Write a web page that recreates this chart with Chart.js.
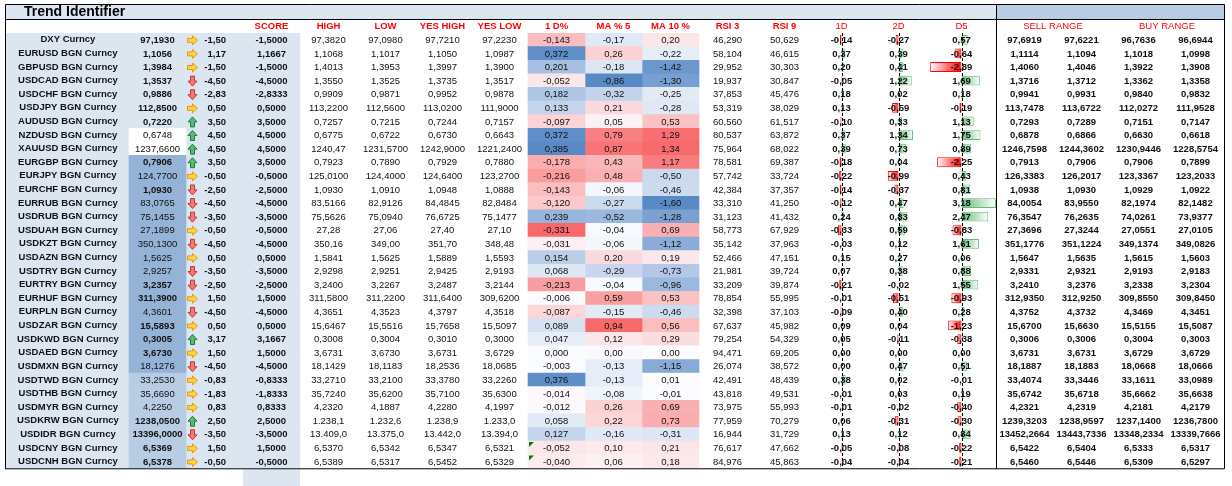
<!DOCTYPE html>
<html>
<head>
<meta charset="utf-8">
<title>Trend Identifier</title>
<script src="https://cdn.jsdelivr.net/npm/chart.js@4.4.1/dist/chart.umd.min.js"></script>
<style>
  html, body { margin: 0; padding: 0; background: #fff; }
  canvas { display: block; }
</style>
</head>
<body>
<canvas id="myChart" width="1232" height="486"></canvas>
<script>
// ---------- data ----------
const names = ['DXY Curncy', 'EURUSD BGN Curncy', 'GBPUSD BGN Curncy', 'USDCAD BGN Curncy', 'USDCHF BGN Curncy',
  'USDJPY BGN Curncy', 'AUDUSD BGN Curncy', 'NZDUSD BGN Curncy', 'XAUUSD BGN Curncy', 'EURGBP BGN Curncy',
  'EURJPY BGN Curncy', 'EURCHF BGN Curncy', 'EURRUB BGN Curncy', 'USDRUB BGN Curncy', 'USDUAH BGN Curncy',
  'USDKZT BGN Curncy', 'USDAZN BGN Curncy', 'USDTRY BGN Curncy', 'EURTRY BGN Curncy', 'EURHUF BGN Curncy',
  'EURPLN BGN Curncy', 'USDZAR BGN Curncy', 'USDKWD BGN Curncy', 'USDAED BGN Curncy', 'USDMXN BGN Curncy',
  'USDTWD BGN Curncy', 'USDTHB BGN Curncy', 'USDMYR BGN Curncy', 'USDKRW BGN Curncy', 'USDIDR BGN Curncy',
  'USDCNY BGN Curncy', 'USDCNH BGN Curncy'];

const price = [97.1930, 1.1056, 1.3984, 1.3537, 0.9886, 112.85, 0.7220, 0.6748, 1237.66, 0.7906,
  124.77, 1.0930, 83.0765, 75.1455, 27.1899, 350.13, 1.5625, 2.9257, 3.2357, 311.39,
  4.3601, 15.5893, 0.3005, 3.6730, 18.1276, 33.2530, 35.6690, 4.2250, 1238.05, 13396,
  6.5369, 6.5378];

const score = [-1.5, 1.1667, -1.5, -4.5, -2.8333, 0.5, 3.5, 4.5, 4.5, 3.5,
  -0.5, -2.5, -4.5, -3.5, -0.5, -4.5, 0.5, -3.5, -2.5, 1.5,
  -4.5, 0.5, 3.1667, 1.5, -4.5, -0.8333, -1.8333, 0.8333, 2.5, -3.5,
  1.5, -0.5];

const high = [97.3820, 1.1068, 1.4013, 1.3550, 0.9909, 113.22, 0.7257, 0.6775, 1240.47, 0.7923,
  125.01, 1.0930, 83.5166, 75.5626, 27.28, 350.16, 1.5841, 2.9298, 3.2400, 311.58,
  4.3651, 15.6467, 0.3008, 3.6731, 18.1429, 33.2710, 35.7240, 4.2320, 1238.1, 13409.0,
  6.5370, 6.5389];
const low = [97.0980, 1.1017, 1.3953, 1.3525, 0.9871, 112.56, 0.7215, 0.6722, 1231.57, 0.7890,
  124.40, 1.0910, 82.9126, 75.0940, 27.06, 349.00, 1.5625, 2.9251, 3.2267, 311.22,
  4.3523, 15.5516, 0.3004, 3.6730, 18.1183, 33.2100, 35.6200, 4.1887, 1232.6, 13375.0,
  6.5342, 6.5317];
const yesHigh = [97.7210, 1.1050, 1.3997, 1.3735, 0.9952, 113.02, 0.7244, 0.6730, 1242.90, 0.7929,
  124.64, 1.0948, 84.4845, 76.6725, 27.40, 351.70, 1.5889, 2.9425, 3.2487, 311.64,
  4.3797, 15.7658, 0.3010, 3.6731, 18.2536, 33.3780, 35.7100, 4.2280, 1238.9, 13442.0,
  6.5347, 6.5452];
const yesLow = [97.2230, 1.0987, 1.3900, 1.3517, 0.9878, 111.90, 0.7157, 0.6643, 1221.24, 0.7880,
  123.27, 1.0888, 82.8484, 75.1477, 27.10, 348.48, 1.5593, 2.9193, 3.2144, 309.62,
  4.3518, 15.5097, 0.3000, 3.6729, 18.0685, 33.2260, 35.6300, 4.1997, 1233.0, 13394.0,
  6.5321, 6.5329];

const dayPct = [-0.143, 0.372, 0.201, -0.052, 0.182, 0.133, -0.097, 0.372, 0.385, -0.178,
  -0.216, -0.143, -0.120, 0.239, -0.331, -0.031, 0.154, 0.068, -0.213, -0.006,
  -0.087, 0.089, 0.047, 0.000, -0.003, 0.376, -0.014, -0.012, 0.058, 0.127,
  -0.052, -0.040];
const ma5 = [-0.17, 0.26, -0.18, -0.86, -0.32, 0.21, 0.05, 0.79, 0.87, 0.43,
  0.48, -0.06, -0.27, -0.52, -0.04, -0.06, 0.20, -0.29, -0.04, 0.59,
  -0.15, 0.94, 0.12, 0.00, -0.13, -0.13, -0.08, 0.26, 0.22, -0.16,
  0.10, 0.06];
const ma10 = [0.20, -0.22, -1.42, -1.30, -0.25, -0.28, 0.53, 1.29, 1.34, 1.17,
  -0.50, -0.46, -1.60, -1.28, 0.69, -1.12, 0.19, -0.73, -0.96, 0.53,
  -0.46, 0.56, 0.29, 0.00, -1.15, 0.01, -0.01, 0.69, 0.73, -0.31,
  0.21, 0.18];

const rsi3 = [46.290, 58.104, 29.952, 19.937, 37.853, 53.319, 60.560, 80.537, 75.964, 78.581,
  57.742, 42.384, 33.310, 31.123, 58.773, 35.142, 52.466, 21.981, 33.209, 78.854,
  32.398, 67.637, 79.254, 94.471, 26.074, 42.491, 43.818, 73.975, 77.959, 16.944,
  76.617, 84.976];
const rsi9 = [50.629, 46.615, 30.303, 30.847, 45.476, 38.029, 61.517, 63.872, 68.022, 69.387,
  33.724, 37.357, 41.250, 41.432, 67.929, 37.963, 47.151, 39.724, 39.874, 55.995,
  37.103, 45.982, 54.329, 69.205, 38.572, 48.439, 49.531, 55.993, 70.279, 31.729,
  47.662, 45.863];

const d1 = [-0.14, 0.37, 0.20, -0.05, 0.18, 0.13, -0.10, 0.37, 0.39, -0.18,
  -0.22, -0.14, -0.12, 0.24, -0.33, -0.03, 0.15, 0.07, -0.21, -0.01,
  -0.09, 0.09, 0.05, 0.00, 0.00, 0.38, -0.01, -0.01, 0.06, 0.13,
  -0.05, -0.04];
const d2 = [-0.27, 0.39, 0.41, 1.22, 0.02, -0.59, 0.33, 1.34, 0.73, 0.04,
  -0.99, -0.37, 0.47, 0.83, 0.59, 0.12, 0.27, 0.38, -0.02, -0.51,
  0.40, 0.04, -0.11, 0.00, 0.47, 0.02, 0.03, -0.02, -0.31, 0.12,
  -0.08, -0.04];
const d5 = [0.57, -0.64, -2.89, 1.69, 0.18, -0.19, 1.13, 1.75, 0.89, -2.25,
  0.43, 0.81, 3.18, 2.47, -0.83, 1.61, 0.06, 0.88, 1.55, -0.93,
  0.28, -1.23, -0.38, 0.00, 0.51, -0.01, 0.19, -0.40, -0.30, 0.84,
  -0.22, -0.21];

const sell1 = [97.6919, 1.1114, 1.4060, 1.3716, 0.9941, 113.7478, 0.7293, 0.6878, 1246.7598, 0.7913,
  126.3383, 1.0938, 84.0054, 76.3547, 27.3696, 351.1776, 1.5647, 2.9331, 3.2410, 312.9350,
  4.3752, 15.6700, 0.3006, 3.6731, 18.1887, 33.4074, 35.6742, 4.2321, 1239.3203, 13452.2664,
  6.5422, 6.5460];
const sell2 = [97.6221, 1.1094, 1.4046, 1.3712, 0.9931, 113.6722, 0.7289, 0.6866, 1244.3602, 0.7906,
  126.2017, 1.0930, 83.9550, 76.2635, 27.3244, 351.1224, 1.5635, 2.9321, 3.2376, 312.9250,
  4.3732, 15.6630, 0.3006, 3.6731, 18.1883, 33.3446, 35.6718, 4.2319, 1238.9597, 13443.7336,
  6.5404, 6.5446];
const buy1 = [96.7636, 1.1018, 1.3922, 1.3362, 0.9840, 112.0272, 0.7151, 0.6630, 1230.9446, 0.7906,
  123.3367, 1.0929, 82.1974, 74.0261, 27.0551, 349.1374, 1.5615, 2.9193, 3.2338, 309.8550,
  4.3469, 15.5155, 0.3004, 3.6729, 18.0668, 33.1611, 35.6662, 4.2181, 1237.1400, 13348.2334,
  6.5333, 6.5309];
const buy2 = [96.6944, 1.0998, 1.3908, 1.3358, 0.9832, 111.9528, 0.7147, 0.6618, 1228.5754, 0.7899,
  123.2033, 1.0922, 82.1482, 73.9377, 27.0105, 349.0826, 1.5603, 2.9183, 3.2304, 309.8450,
  4.3451, 15.5087, 0.3003, 3.6729, 18.0666, 33.0989, 35.6638, 4.2179, 1236.7800, 13339.7666,
  6.5317, 6.5297];

const headerLabels = ['SCORE', 'HIGH', 'LOW', 'YES HIGH', 'YES LOW', '1 D%', 'MA % 5', 'MA 10 %',
  'RSI 3', 'RSI 9', '1D', '2D', 'D5', 'SELL RANGE', 'BUY RANGE'];

// ---------- layout & styles ----------
// column edges in x-scale units (one standard spreadsheet column = 1)
const COLS = {
  name: [-2.1754, 0], price: [0, 1], chg: [1, 2], score: [2, 3],
  high: [3, 4], low: [4, 5], yh: [5, 6], yl: [6, 7],
  dpct: [7, 8], ma5: [8, 9], ma10: [9, 10], rsi3: [10, 11], rsi9: [11, 12],
  d1: [12, 13], d2: [13, 14], d5: [14, 15.21],
  s1: [15.21, 16.21], s2: [16.21, 17.21], b1: [17.21, 18.21], b2: [18.21, 19.21]
};
const mid = c => (COLS[c][0] + COLS[c][1]) / 2;
const headerPos = [mid('score'), mid('high'), mid('low'), mid('yh'), mid('yl'), mid('dpct'), mid('ma5'),
  mid('ma10'), mid('rsi3'), mid('rsi9'), mid('d1'), mid('d2'), mid('d5'), COLS.s2[0], COLS.b2[0]];
const headerBold = [true, true, true, true, true, true, true, true, true, true, false, false, false, false, false];

const ROW_BG = '#dce6f1';
const priceFill = names.map((n, i) => i < 7 ? null : i < 9 ? '#ffffff' : i < 25 ? '#95b3d7' : '#b8cce4');
const priceNormal = [7, 8, 10, 12, 13, 14, 15, 16, 17, 20, 24, 25, 26, 27];
// HIGH / LOW / YES HIGH / YES LOW decimals that differ from 4
const hlFormat = { 8: [2, 4, 4, 4], 14: [2, 2, 2, 2], 15: [2, 2, 2, 2], 28: [1, 1, 1, 1, true], 29: [1, 1, 1, 1, true] };
const errorMark = [30, 31];
const DB_SCALE = 0.19;   // data bar length, columns per unit
const FONT = '"Liberation Sans", Arial, sans-serif';
const TEXT = '#111111';

function fmt(v, dec, group) {
  const s = Math.abs(v).toFixed(dec).split('.');
  let int = s[0];
  if (group) int = int.replace(/\B(?=(\d{3})+(?!\d))/g, '.');
  return (v < 0 ? '-' : '') + int + (s[1] ? ',' + s[1] : '');
}

const RED = [248, 105, 107], WHITE = [252, 252, 255], BLUE = [90, 138, 198];
function mix(a, b, t) { return a.map((x, k) => Math.round(x + (b[k] - x) * t)); }
function colorScale(arr, lowCol, highCol) {
  const s = arr.slice().sort((a, b) => a - b);
  const min = s[0], max = s[s.length - 1];
  const p = (s.length - 1) / 2;
  const med = s[Math.floor(p)] + (s[Math.ceil(p)] - s[Math.floor(p)]) * (p - Math.floor(p));
  return arr.map(v => {
    const c = v <= med ? mix(WHITE, lowCol, med === min ? 0 : (med - v) / (med - min))
                       : mix(WHITE, highCol, (v - med) / (max - med));
    return 'rgb(' + c.join(',') + ')';
  });
}

function cells(c) { return names.map(() => [COLS[c][0], COLS[c][1]]); }
function cellSet(c, color, order) {
  return { data: cells(c), backgroundColor: color, borderWidth: 0, grouped: false,
    barPercentage: 1, categoryPercentage: 1, order: order };
}
function barSet(c, values) {
  const axis = mid(c);
  return {
    data: values.map(v => [axis, axis + v * DB_SCALE]),
    grouped: false, barPercentage: 0.72, categoryPercentage: 1, order: 1,
    borderWidth: 1, borderSkipped: false,
    borderColor: ctx => ctx.raw && ctx.raw[1] < ctx.raw[0] ? '#ff0000' : '#63be7b',
    backgroundColor: ctx => {
      const chart = ctx.chart;
      if (!chart.chartArea || !ctx.raw) return 'rgba(0,0,0,0)';
      const x = chart.scales.x;
      const pa = x.getPixelForValue(ctx.raw[0]), pb = x.getPixelForValue(ctx.raw[1]);
      const col = ctx.raw[1] < ctx.raw[0] ? '255,0,0' : '99,190,123';
      if (Math.abs(pb - pa) < 1) return 'rgb(' + col + ')';
      const g = chart.ctx.createLinearGradient(pa, 0, pb, 0);
      g.addColorStop(0, 'rgb(' + col + ')');
      g.addColorStop(1, 'rgba(255,255,255,1)');
      return g;
    }
  };
}

// ---------- drawing helpers ----------
function drawArrow(ctx, x0, y, dir) {
  ctx.beginPath();
  if (dir === 'right') {
    ctx.moveTo(x0, y - 2); ctx.lineTo(x0 + 5, y - 2); ctx.lineTo(x0 + 5, y - 4.5);
    ctx.lineTo(x0 + 10, y); ctx.lineTo(x0 + 5, y + 4.5); ctx.lineTo(x0 + 5, y + 2); ctx.lineTo(x0, y + 2);
    ctx.fillStyle = '#ffd24d'; ctx.strokeStyle = '#e69a00';
  } else {
    const s = dir === 'down' ? 1 : -1;
    const cx = x0 + 5;
    ctx.moveTo(cx - 2, y - 5 * s); ctx.lineTo(cx + 2, y - 5 * s); ctx.lineTo(cx + 2, y);
    ctx.lineTo(cx + 4.5, y); ctx.lineTo(cx, y + 5 * s); ctx.lineTo(cx - 4.5, y); ctx.lineTo(cx - 2, y);
    if (dir === 'down') { ctx.fillStyle = '#f4777a'; ctx.strokeStyle = '#c0392b'; }
    else { ctx.fillStyle = '#5cb874'; ctx.strokeStyle = '#1e7a3c'; }
  }
  ctx.closePath();
  ctx.fill();
  ctx.lineWidth = 1;
  ctx.stroke();
}

const tablePlugin = {
  id: 'tableText',
  beforeDraw(chart) {
    const ctx = chart.ctx, x = chart.scales.x, xh = chart.scales.xh, area = chart.chartArea;
    const sep = x.getPixelForValue(COLS.s1[0]);
    ctx.save();
    ctx.fillStyle = '#dce6f1';
    ctx.fillRect(area.left, 4, sep - area.left, xh.top - 4);
    ctx.fillStyle = '#b8cce4';
    ctx.fillRect(sep, 4, area.right - sep, xh.top - 4);
    // score column keeps its fill under the table
    const s0 = x.getPixelForValue(COLS.score[0]), s1 = x.getPixelForValue(COLS.score[1]);
    ctx.fillStyle = ROW_BG;
    ctx.fillRect(s0, area.bottom + 1, s1 - s0, chart.height - area.bottom - 1);
    ctx.restore();
  },
  afterDatasetsDraw(chart) {
    const ctx = chart.ctx, x = chart.scales.x, y = chart.scales.y, area = chart.chartArea;
    ctx.save();
    // data bar axes
    ctx.strokeStyle = '#000';
    ctx.lineWidth = 1;
    ctx.setLineDash([3, 2]);
    ['d1', 'd2', 'd5'].forEach(c => {
      const px = Math.round(x.getPixelForValue(mid(c))) + 0.5;
      ctx.beginPath(); ctx.moveTo(px, area.top); ctx.lineTo(px, area.bottom); ctx.stroke();
    });
    ctx.setLineDash([]);

    ctx.textBaseline = 'middle';
    ctx.fillStyle = TEXT;
    const put = (txt, c, i, bold, align) => {
      ctx.font = (bold ? 'bold ' : '') + '9.5px ' + FONT;
      ctx.textAlign = align || 'center';
      ctx.fillText(txt, x.getPixelForValue(mid(c)), y.getPixelForValue(i) + 0.5);
    };
    names.forEach((n, i) => {
      const hf = hlFormat[i] || [4, 4, 4, 4, false];
      ctx.fillStyle = TEXT;
      put(fmt(price[i], 4), 'price', i, priceNormal.indexOf(i) < 0);
      put(fmt(score[i], 4), 'score', i, true);
      put(fmt(high[i], hf[0], hf[4]), 'high', i, false);
      put(fmt(low[i], hf[1], hf[4]), 'low', i, false);
      put(fmt(yesHigh[i], hf[2], hf[4]), 'yh', i, false);
      put(fmt(yesLow[i], hf[3], hf[4]), 'yl', i, false);
      put(fmt(dayPct[i], 3), 'dpct', i, false);
      put(fmt(ma5[i], 2), 'ma5', i, false);
      put(fmt(ma10[i], 2), 'ma10', i, false);
      put(fmt(rsi3[i], 3), 'rsi3', i, false);
      put(fmt(rsi9[i], 3), 'rsi9', i, false);
      put(fmt(d1[i], 2), 'd1', i, true);
      put(fmt(d2[i], 2), 'd2', i, true);
      put(fmt(d5[i], 2), 'd5', i, true);
      put(fmt(sell1[i], 4), 's1', i, true);
      put(fmt(sell2[i], 4), 's2', i, true);
      put(fmt(buy1[i], 4), 'b1', i, true);
      put(fmt(buy2[i], 4), 'b2', i, true);

      // icon + rounded score in the change column
      const yc = y.getPixelForValue(i);
      const cl = x.getPixelForValue(COLS.chg[0]), cr = x.getPixelForValue(COLS.chg[1]);
      const dir = score[i] >= 2.5 ? 'up' : score[i] <= -2.5 ? 'down' : 'right';
      drawArrow(ctx, cl + 1.5, yc + 0.5, dir);
      ctx.fillStyle = TEXT;
      ctx.font = 'bold 9.5px ' + FONT;
      ctx.textAlign = 'right';
      ctx.fillText(fmt(score[i], 2), cr - 17, yc + 0.5);
    });

    // green error markers in the 1 D% column
    ctx.fillStyle = '#007a00';
    errorMark.forEach(i => {
      const x0 = x.getPixelForValue(COLS.dpct[0]) + 1;
      const y0 = y.getPixelForValue(i) - 6;
      ctx.beginPath(); ctx.moveTo(x0, y0); ctx.lineTo(x0 + 5, y0); ctx.lineTo(x0, y0 + 5); ctx.closePath(); ctx.fill();
    });
    ctx.restore();
  },
  afterDraw(chart) {
    const ctx = chart.ctx, x = chart.scales.x, xh = chart.scales.xh, area = chart.chartArea;
    const L = area.left + 0.5, R = area.right + 0.5, T = 4.5, B = area.bottom + 0.5;
    const sep = Math.round(x.getPixelForValue(COLS.s1[0])) + 0.5;
    ctx.save();
    ctx.strokeStyle = '#000';
    ctx.lineWidth = 1;
    ctx.beginPath();
    ctx.moveTo(L, T); ctx.lineTo(R, T); ctx.lineTo(R, B); ctx.lineTo(L, B); ctx.closePath();
    ctx.moveTo(L, xh.top + 0.5); ctx.lineTo(R, xh.top + 0.5);
    ctx.moveTo(sep, T); ctx.lineTo(sep, B);
    ctx.stroke();
    ctx.fillStyle = '#000';
    ctx.font = 'bold 14px ' + FONT;
    ctx.textBaseline = 'middle';
    ctx.textAlign = 'left';
    ctx.fillText('Trend Identifier', area.left + 19, 12);
    ctx.restore();
  }
};

// ---------- chart ----------
const ctx = document.getElementById('myChart');
const myChart = new Chart(ctx, {
  type: 'bar',
  data: {
    labels: names,
    datasets: [
      barSet('d1', d1),
      barSet('d2', d2),
      barSet('d5', d5),
      cellSet('dpct', colorScale(dayPct, RED, BLUE), 3),
      cellSet('ma5', colorScale(ma5, BLUE, RED), 3),
      cellSet('ma10', colorScale(ma10, BLUE, RED), 3),
      cellSet('price', priceFill.map(c => c || ROW_BG), 4),
      { data: names.map(() => [COLS.name[0], COLS.score[1]]), backgroundColor: ROW_BG, borderWidth: 0,
        grouped: false, barPercentage: 1, categoryPercentage: 1, order: 5 }
    ]
  },
  options: {
    indexAxis: 'y',
    responsive: false,
    animation: false,
    layout: { padding: { left: 5, right: 8, top: 19, bottom: 5 } },
    plugins: {
      legend: { display: false },
      tooltip: { enabled: false },
      title: { display: false }
    },
    scales: {
      x: { type: 'linear', min: COLS.name[0], max: COLS.b2[1], display: false },
      xh: {
        type: 'linear', axis: 'x', position: 'top', min: COLS.name[0], max: COLS.b2[1],
        grid: { display: false, drawTicks: false }, border: { display: false },
        afterBuildTicks: s => { s.ticks = headerPos.map(v => ({ value: v })); },
        afterFit: s => { s.height = 14; },
        ticks: {
          autoSkip: false, maxRotation: 0, padding: 1, color: '#ff0000',
          callback: (v, i) => headerLabels[i],
          font: c => ({ family: FONT, size: 9.5, weight: headerBold[c.index] ? 'bold' : 'normal' })
        }
      },
      y: {
        type: 'category', position: 'left',
        grid: { display: false, drawTicks: false }, border: { display: false },
        afterFit: s => { s.width = 0; },
        ticks: {
          mirror: true, crossAlign: 'center', padding: 12, z: 1, autoSkip: false,
          color: TEXT, font: { family: FONT, size: 9.5, weight: 'bold' }
        }
      }
    }
  },
  plugins: [tablePlugin]
});
</script>
</body>
</html>
